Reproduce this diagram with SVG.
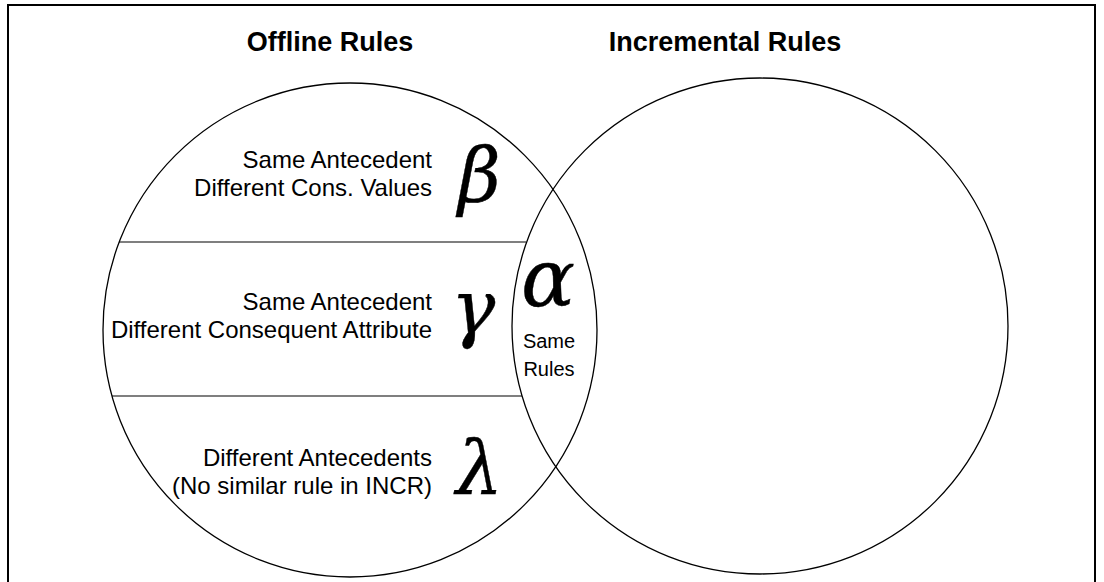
<svg xmlns="http://www.w3.org/2000/svg" width="1104" height="582" viewBox="0 0 1104 582">
<style>
.ring{fill:none;stroke:#000;stroke-width:1.3}
.div{stroke:#000;stroke-width:1.2}
.title{font-family:"Liberation Sans",Arial,sans-serif;font-weight:bold;font-size:27px;fill:#000;text-anchor:middle}
.body{font-family:"Liberation Sans",Arial,sans-serif;font-size:24px;fill:#000;text-anchor:end}
.small{font-family:"Liberation Sans",Arial,sans-serif;font-size:20px;fill:#000;text-anchor:middle}
.greek{font-family:"DejaVu Serif",serif;font-style:italic;font-size:74px;fill:#000;stroke:#000;stroke-width:0.4}
.big{font-size:80px}
</style>
<rect x="0" y="0" width="1104" height="582" fill="#fff"/>
<rect x="8" y="5" width="1087" height="620" fill="none" stroke="#000" stroke-width="2"/>
<g id="offline-rules">
<circle class="ring" cx="350" cy="330" r="247"/>
<text class="title" x="330" y="51">Offline Rules</text>
</g>
<g id="incremental-rules">
<circle class="ring" cx="760" cy="326" r="248"/>
<text class="title" x="725" y="51">Incremental Rules</text>
</g>
<g id="dividers">
<line class="div" x1="119" y1="242" x2="526" y2="242"/>
<line class="div" x1="112" y1="396" x2="522" y2="396"/>
</g>
<g id="beta">
<text class="body" x="432" y="168">Same Antecedent</text>
<text class="body" x="432" y="196">Different Cons. Values</text>
<text class="greek" x="458" y="201">β</text>
</g>
<g id="gamma">
<text class="body" x="432" y="310">Same Antecedent</text>
<text class="body" x="432" y="338">Different Consequent Attribute</text>
<text class="greek" x="451" y="333">γ</text>
</g>
<g id="alpha">
<text class="greek big" x="521" y="306">α</text>
<text class="small" x="549" y="348">Same</text>
<text class="small" x="549" y="376">Rules</text>
</g>
<g id="lambda">
<text class="body" x="432" y="466">Different Antecedents</text>
<text class="body" x="432" y="494">(No similar rule in INCR)</text>
<text class="greek" x="456" y="494">λ</text>
</g>
</svg>
